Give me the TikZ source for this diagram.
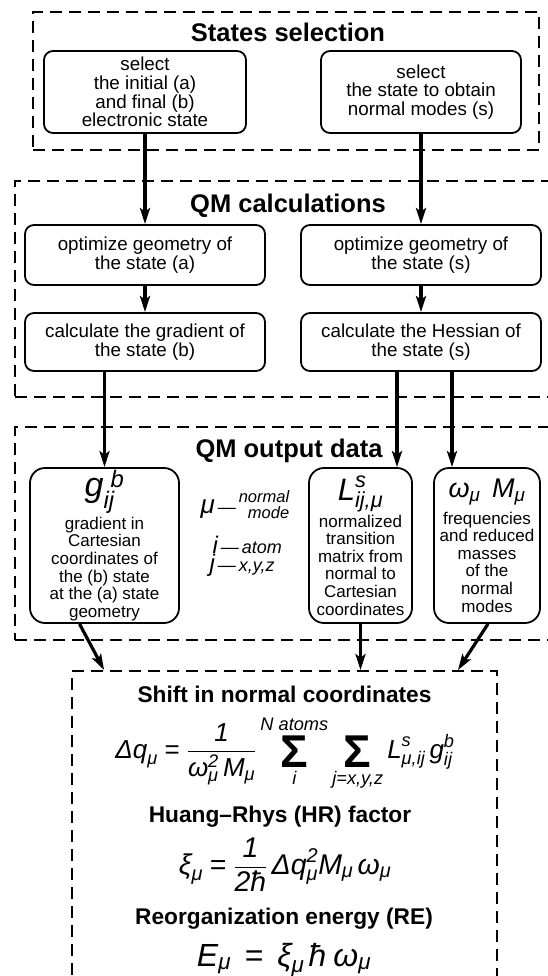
\documentclass[tikz,border=0pt]{standalone}
\usepackage{amsmath}
\usepackage{fontspec}
\setmainfont{Liberation Sans}
\usepackage{xcolor}
\usepackage{tikz}
\usetikzlibrary{positioning, calc, arrows.meta}
\definecolor{inkBlack}{HTML}{000000}
% italic sans letters inside formulas
\newcommand{\vr}[1]{\text{\itshape #1}}
\newcommand{\bigsum}{\mathop{\vcenter{\hbox{\fontsize{46}{46}\selectfont\bfseries Σ}}}\limits}

\begin{document}
\begin{tikzpicture}[x=1pt, y=-1pt, inkBlack,
  zone/.style={draw, line width=1.8pt, dash pattern=on 12pt off 7pt},
  zonetitle/.style={anchor=base, font=\fontsize{25.5}{26}\selectfont\bfseries},
  stepbox/.style={draw, line width=1.8pt, rounded corners=9pt, align=center,
    inner sep=0pt, minimum width=240pt, font=\fontsize{18.8}{18.8}\selectfont},
  databox/.style={draw, line width=1.8pt, rounded corners=15pt, align=center,
    inner sep=0pt, minimum height=155pt, font=\fontsize{17}{17.6}\selectfont},
  flow/.style={line width=3.2pt, -{Stealth[length=16pt,width=10pt,inset=3.5pt]}},
  formtitle/.style={anchor=base, font=\fontsize{22.7}{23}\selectfont\bfseries},
  formula/.style={anchor=base, font=\fontsize{26}{28}\selectfont},
  legend/.style={anchor=base west, font=\itshape\fontsize{18}{18}\selectfont}]
  \useasboundingbox (0,0) rectangle (548,976);
  \clip (0,0) rectangle (548,976);
  \def\colL{145}\def\colR{421}
  % dashed zones (the lower ones run off the page)
  \node[zone, minimum width=506pt, minimum height=138pt] (selzone) at (286,81) {};
  \node[zone, minimum width=560pt, minimum height=216pt] (calczone) at (295,289) {};
  \node[zone, minimum width=560pt, minimum height=213pt] (outzone) at (295,533.5) {};
  \node[zone, minimum width=425pt, minimum height=340pt] (reszone) at (284.5,841) {};
  \node[zonetitle] (seltitle) at (288,42) {States selection};
  \node[zonetitle] (calctitle) at (288,213) {QM calculations};
  \node[zonetitle] (outtitle) at (289,457) {QM output data};
  % states selection
  \node[stepbox, minimum width=202pt, minimum height=82pt] (selab) at (\colL,92)
    {select\\the initial (a)\\and final (b)\\electronic state};
  \node[stepbox, minimum width=200pt, minimum height=82pt] (sels) at (\colR,92)
    {select\\the state to obtain\\normal modes (s)};
  % QM calculations
  \node[stepbox, minimum height=60pt] (opta) at (\colL,255) {optimize geometry of\\the state (a)};
  \node[stepbox, minimum height=60pt] (opts) at (\colR,255) {optimize geometry of\\the state (s)};
  \node[stepbox, minimum height=58pt] (gradb) at (\colL,342) {calculate the gradient of\\the state (b)};
  \node[stepbox, minimum height=58pt] (hesss) at (\colR,342) {calculate the Hessian of\\the state (s)};
  % QM output data
  \node[databox, minimum width=149pt] (gdata) at (104.5,545.5)
    {{\fontsize{34}{34}\selectfont$\vr{g}^{\;\vr{b}}_{\vr{ij}}$}\\[2pt]
     gradient in\\Cartesian\\coordinates of\\the (b) state\\at the (a) state\\geometry};
  \node[databox, minimum width=103pt] (ldata) at (360.5,545.5)
    {{\fontsize{31}{31}\selectfont$\vr{L}^{\vr{s}}_{\vr{ij,μ}}$}\\[2pt]
     normalized\\transition\\matrix from\\normal to\\Cartesian\\coordinates};
  \node[databox, minimum width=106pt] (wdata) at (487,545.5)
    {{\fontsize{27}{27}\selectfont$\vr{ω}_{\vr{μ}}\ \,\vr{M}_{\vr{μ}}$}\\[6pt]
     frequencies\\and reduced\\masses\\of the\\normal\\modes};
  % index legend
  \node[legend] (legmu) at (197,513)
    {{\fontsize{26}{26}\selectfont μ}\,—\,\raisebox{-5pt}{\fontsize{16.5}{15}\selectfont\shortstack[r]{normal\\mode}}};
  \node[legend] (legi) at (209,553)
    {{\fontsize{24}{24}\selectfont i}\,—\,atom};
  \node[legend] (legj) at (206,571)
    {{\fontsize{24}{24}\selectfont j}\,—\,x,y,z};
  % formulas
  \node[formtitle] (shifttitle) at (284.5,702) {Shift in normal coordinates};
  \node[formula] (shifteq) at (285,758)
    {$\displaystyle \vr{Δq}_{\vr{μ}} \mathrel{\text{=}}
      \frac{\vr{1}}{\vr{ω}^{\vr{2}}_{\vr{μ}}\,\vr{M}_{\vr{μ}}}
      \bigsum_{\vr{i}}^{\vr{N atoms}} \bigsum_{\vr{j=x,y,z}}
      \vr{L}^{\vr{s}}_{\vr{μ,ij}}\,\vr{g}^{\vr{b}}_{\vr{ij}}$};
  \node[formtitle] (hrtitle) at (280,822) {Huang–Rhys (HR) factor};
  \node[formula, font=\fontsize{28.5}{30}\selectfont] (hreq) at (285,874)
    {$\displaystyle \vr{ξ}_{\vr{μ}} \mathrel{\text{=}} \frac{\vr{1}}{\vr{2ħ}}\,
      \vr{Δq}^{\vr{2}}_{\vr{μ}}\vr{M}_{\vr{μ}}\,\vr{ω}_{\vr{μ}}$};
  \node[formtitle] (retitle) at (284,924) {Reorganization energy (RE)};
  \node[formula, font=\fontsize{32}{33}\selectfont] (reeq) at (284,966)
    {$\vr{E}_{\vr{μ}} \;\mathrel{\text{=}}\; \vr{ξ}_{\vr{μ}}\,\vr{ħ}\;\vr{ω}_{\vr{μ}}$};
  % arrows
  \coordinate (tapL) at (397,0);
  \coordinate (tapW) at (452,0);
  \draw[flow] (selab) -- (opta);
  \draw[flow] (sels) -- (opts);
  \draw[flow] (opta) -- (gradb);
  \draw[flow] (opts) -- (hesss);
  \draw[flow] (gradb.south -| gdata.north) -- (gdata.north);
  \draw[flow] (hesss.south -| tapL) -- (ldata.north -| tapL);
  \draw[flow] (hesss.south -| tapW) -- (wdata.north -| tapW);
  \draw[flow] ($(gdata.south)+(-25,0)$) -- ($(reszone.north west)+(33,0)$);
  \draw[flow] (ldata.south) -- (ldata.south |- reszone.north);
  \draw[flow] ($(wdata.south)+(1,0)$) -- ($(reszone.north east)+(-40,0)$);
\end{tikzpicture}
\end{document}
